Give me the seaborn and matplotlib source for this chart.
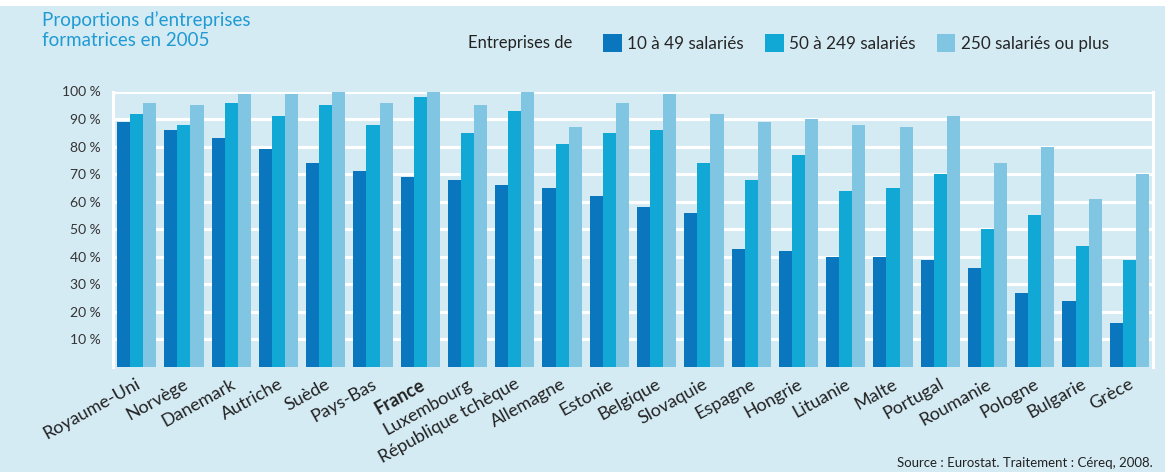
import matplotlib
matplotlib.use("Agg")
import matplotlib.pyplot as plt
import matplotlib.patches as mpatches
import matplotlib.transforms as mtransforms
import seaborn as sns
import pandas as pd

countries = ["Royaume-Uni", "Norvège", "Danemark", "Autriche", "Suède", "Pays-Bas",
             "France", "Luxembourg", "République tchèque", "Allemagne", "Estonie",
             "Belgique", "Slovaquie", "Espagne", "Hongrie", "Lituanie", "Malte",
             "Portugal", "Roumanie", "Pologne", "Bulgarie", "Grèce"]
small = [89, 86, 83, 79, 74, 71, 69, 68, 66, 65, 62, 58, 56, 43, 42, 40, 40, 39, 36, 27, 24, 16]
medium = [92, 88, 96, 91, 95, 88, 98, 85, 93, 81, 85, 86, 74, 68, 77, 64, 65, 70, 50, 55, 44, 39]
large = [96, 95, 99, 99, 100, 96, 100, 95, 100, 87, 96, 99, 92, 89, 90, 88, 87, 91, 74, 80, 61, 70]
series_names = ["10 à 49 salariés", "50 à 249 salariés", "250 salariés ou plus"]
yticks = [10, 20, 30, 40, 50, 60, 70, 80, 90, 100]

colors = ["#0a76bd", "#11a8d6", "#80c5e2"]
bg = "#d5ebf4"

rows = []
for name, vals in zip(series_names, [small, medium, large]):
    for c, v in zip(countries, vals):
        rows.append({"pays": c, "taille": name, "valeur": v})
df = pd.DataFrame(rows)

sns.set_theme(style="white")
plt.rcParams["font.family"] = ["Lato", "DejaVu Sans"]

fig = plt.figure(figsize=(11.65, 4.72), dpi=100)
fig.patch.set_facecolor(bg)
# white strip at top
fig.add_artist(mpatches.Rectangle((0, 1 - 6 / 472), 1, 6 / 472, transform=fig.transFigure,
                                  facecolor="white", edgecolor="none", zorder=0))

ax = fig.add_axes([113 / 1165, 1 - 367 / 472, (1153 - 113) / 1165, (367 - 91.5) / 472])
ax.set_facecolor(bg)

sns.barplot(data=df, x="pays", y="valeur", hue="taille", order=countries,
            hue_order=series_names, palette=colors, width=0.83, gap=0,
            saturation=1, legend=False, ax=ax, zorder=3, linewidth=0)

ax.set_ylim(0, 100)
ax.set_xlim(-0.5, len(countries) - 0.5)
ax.set_yticks(yticks)
ax.set_yticklabels([f"{t} %" for t in yticks], fontsize=10, color="#333333")
ax.yaxis.grid(True, color="white", linewidth=2.2, zorder=0)
ax.set_axisbelow(True)
ax.tick_params(axis="y", length=0, pad=9)
ax.tick_params(axis="x", length=0, pad=0)
ax.set_xlabel("")
ax.set_ylabel("")
for s in ["left", "right"]:
    ax.spines[s].set_visible(True)
    ax.spines[s].set_color("white")
    ax.spines[s].set_linewidth(2.2)
ax.spines["top"].set_visible(False)
ax.spines["bottom"].set_visible(False)

offset = mtransforms.ScaledTranslation(-1 / 100, -9 / 100, fig.dpi_scale_trans)
ax.set_xticks(range(len(countries)))
labels = ax.set_xticklabels(countries, rotation=29, ha="right", va="top",
                            rotation_mode="anchor", fontsize=13, color="#222222")
for lab in labels:
    lab.set_transform(lab.get_transform() + offset)
    if lab.get_text() == "France":
        lab.set_fontweight("bold")

# Title
fig.text(42 / 1165, 1 - 11 / 472, "Proportions d\u2019entreprises\nformatrices en 2005",
         ha="left", va="top", fontsize=13.5, color="#1f9ad3", linespacing=1.2)

# Legend
fig.text(572 / 1165, 1 - 43 / 472, "Entreprises de", ha="right", va="center",
         fontsize=12, color="#222222")
handles = [mpatches.Patch(facecolor=c, edgecolor="none", label=n) for c, n in zip(colors, series_names)]
fig.legend(handles=handles, loc="center left", bbox_to_anchor=(603 / 1165, 1 - 43 / 472),
           ncol=3, frameon=False, fontsize=12.3, handlelength=1.1, handleheight=1.2,
           handletextpad=0.3, columnspacing=1.25, borderaxespad=0, borderpad=0)

fig.text(1153 / 1165, 1 - 463 / 472, "Source : Eurostat. Traitement : Céreq, 2008.",
         ha="right", va="center", fontsize=9.5, color="#222222")

fig.savefig("out.png", dpi=100, facecolor=bg)
